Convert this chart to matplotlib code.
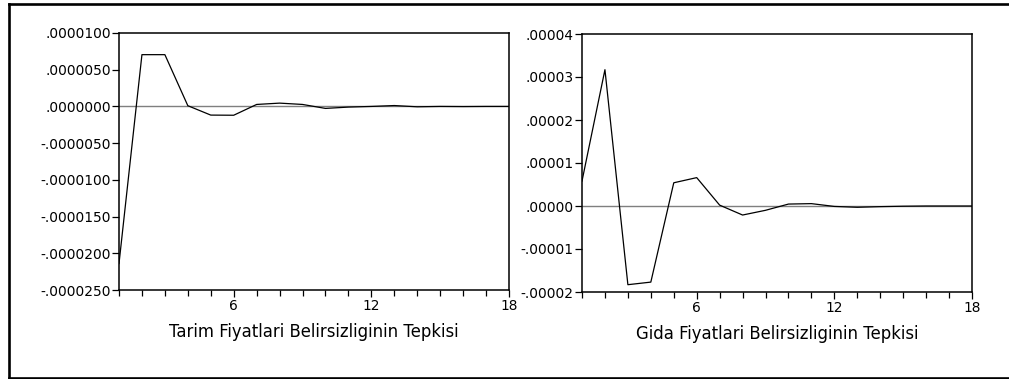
import matplotlib
matplotlib.use("Agg")
import matplotlib.pyplot as plt
from matplotlib.ticker import FixedLocator
from matplotlib.lines import Line2D

periods = list(range(1, 19))
tarim = [-21.4e-6, 7.05e-6, 7.05e-6, 0.1e-6, -1.18e-6, -1.2e-6, 0.27e-6, 0.45e-6,
         0.27e-6, -0.27e-6, -0.09e-6, 0.0, 0.12e-6, -0.05e-6, 0.0, -0.02e-6, 0.0, 0.0]
gida = [0.58e-5, 3.17e-5, -1.83e-5, -1.77e-5, 0.54e-5, 0.66e-5, 0.02e-5, -0.21e-5,
        -0.10e-5, 0.045e-5, 0.055e-5, -0.01e-5, -0.03e-5, -0.015e-5, -0.005e-5, 0.0, 0.0, 0.0]

tarim_yticks = [1e-5, 5e-6, 0.0, -5e-6, -1e-5, -1.5e-5, -2e-5, -2.5e-5]
tarim_ylabels = [".0000100", ".0000050", ".0000000", "-.0000050", "-.0000100",
                 "-.0000150", "-.0000200", "-.0000250"]
gida_yticks = [4e-5, 3e-5, 2e-5, 1e-5, 0.0, -1e-5, -2e-5]
gida_ylabels = [".00004", ".00003", ".00002", ".00001", ".00000", "-.00001", "-.00002"]
xtick_major = [6, 12, 18]

titles = ["Tarim Fiyatlari Belirsizliginin Tepkisi", "Gida Fiyatlari Belirsizliginin Tepkisi"]

plt.rcParams['font.family'] = ['DejaVu Sans']
FS = 9.9

W, H = 1009, 379
fig = plt.figure(figsize=(W / 100, H / 100), dpi=100)

# outer frame (open on the right, as in the reference crop)
x0, yt, yb = 8.5 / W, 1 - 4 / H, 1 - 377.5 / H
xr = 1 + 2 / W
for xs, ys in (([x0, xr], [yt, yt]), ([x0, x0], [yt, yb]), ([x0, xr], [yb, yb])):
    fig.lines.append(Line2D(xs, ys, transform=fig.transFigure, color="black",
                            linewidth=1.9, solid_capstyle="projecting"))

def make(ax, y, yticks, ylabels, ylim, title):
    ax.plot(periods, y, color="black", linewidth=0.9, zorder=3)
    ax.axhline(0, color="#7f7f7f", linewidth=1.0, zorder=2)
    ax.set_xlim(1, 18)
    ax.set_ylim(*ylim)
    ax.set_yticks(yticks)
    ax.set_yticklabels(ylabels, fontsize=FS)
    ax.xaxis.set_major_locator(FixedLocator(xtick_major))
    ax.xaxis.set_minor_locator(FixedLocator([p for p in periods if p not in xtick_major]))
    ax.set_xticklabels([str(t) for t in xtick_major], fontsize=FS)
    ax.tick_params(axis="both", which="both", direction="out", width=0.9, color="black")
    ax.tick_params(axis="y", length=5, pad=1)
    ax.tick_params(axis="x", which="major", length=5, pad=1.5)
    ax.tick_params(axis="x", which="minor", length=4)
    for s in ax.spines.values():
        s.set_linewidth(1.1)
    ax.set_xlabel(title, fontsize=11.9, labelpad=7)

ax1 = fig.add_axes([119 / W, 1 - 290 / H, 390 / W, 257 / H])
make(ax1, tarim, tarim_yticks, tarim_ylabels, (-2.5e-5, 1e-5), titles[0])

ax2 = fig.add_axes([582 / W, 1 - 292 / H, 390 / W, 258 / H])
make(ax2, gida, gida_yticks, gida_ylabels, (-2e-5, 4e-5), titles[1])

fig.savefig("out.png", dpi=100)
